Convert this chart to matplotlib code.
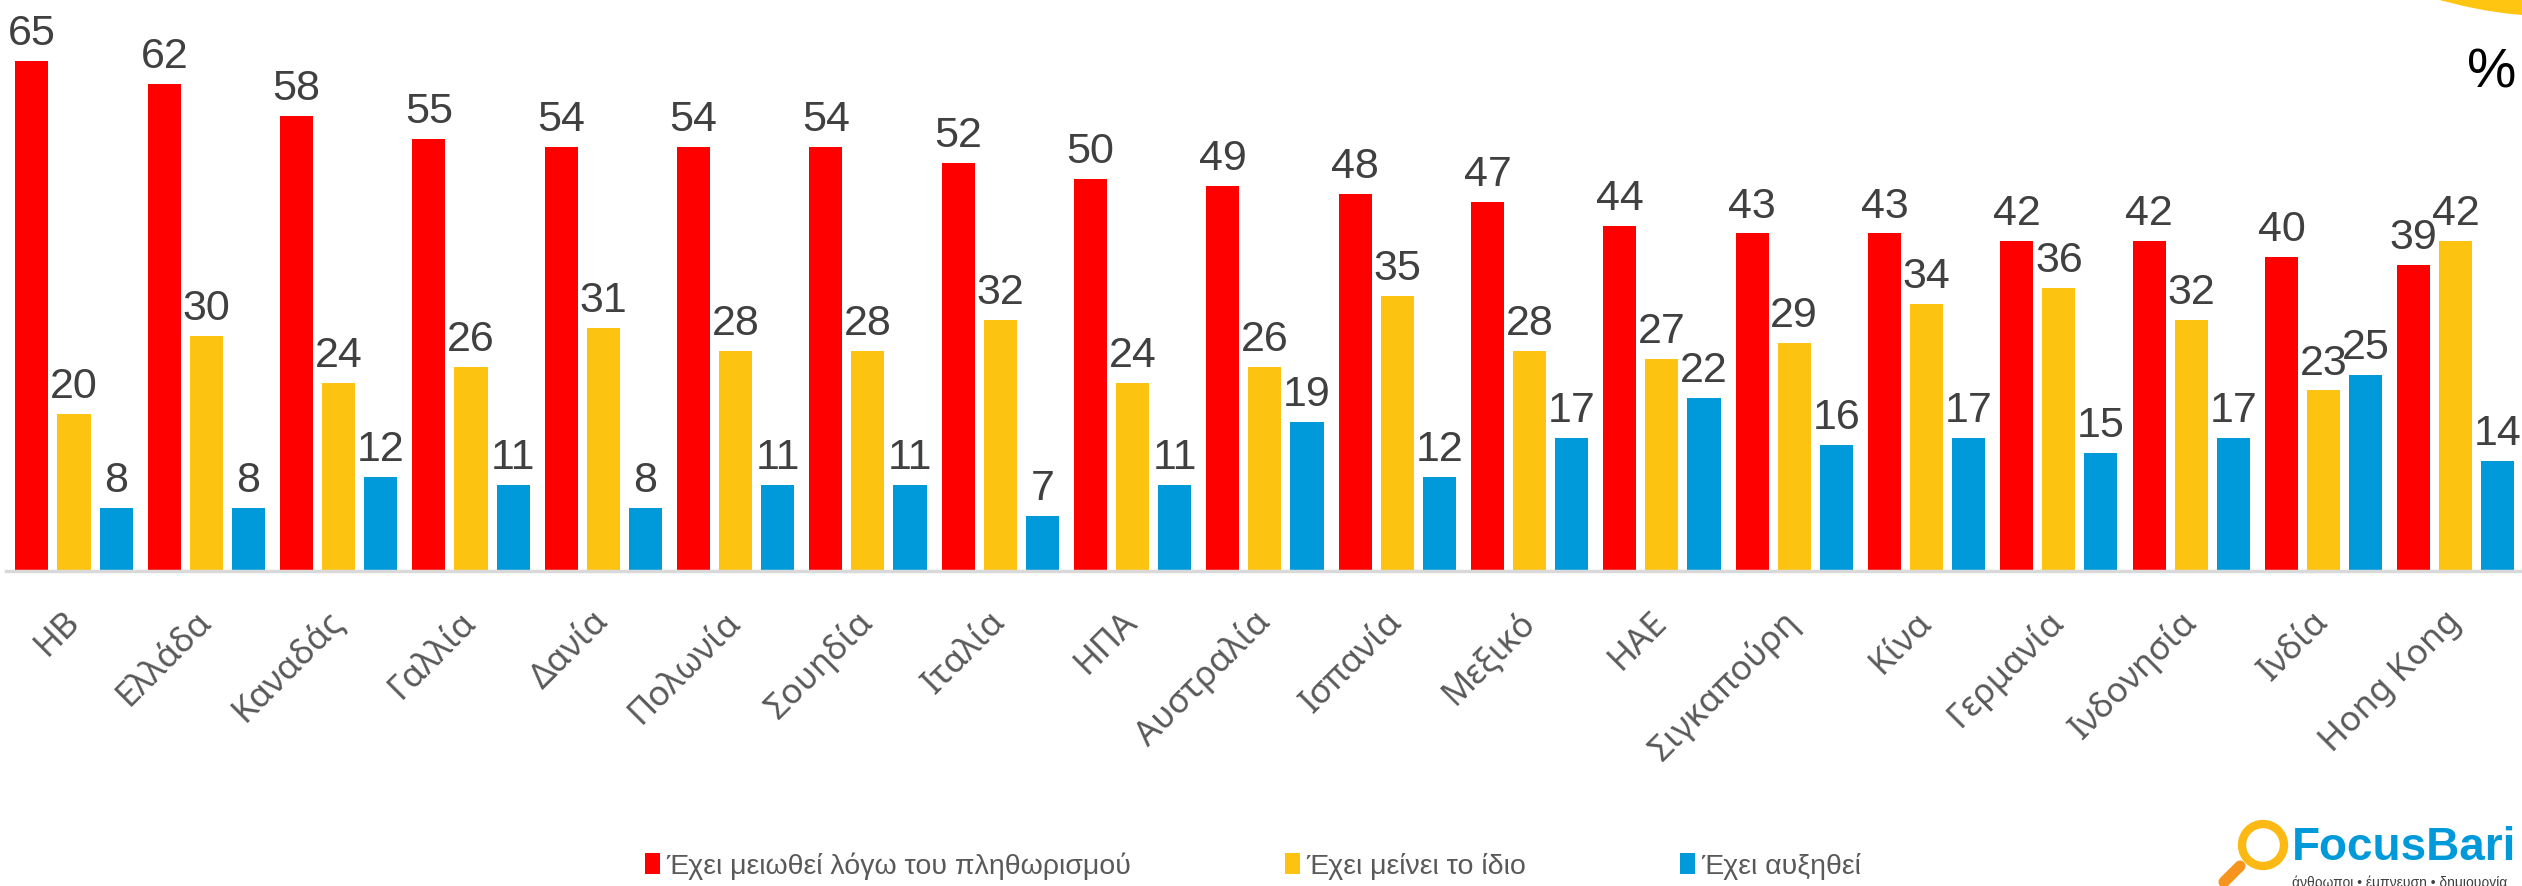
import numpy as np
import matplotlib
matplotlib.use("Agg")
import matplotlib.pyplot as plt
from matplotlib import font_manager
from matplotlib.patches import Patch, Ellipse
from matplotlib.lines import Line2D

countries = ["ΗΒ", "Ελλάδα", "Καναδάς", "Γαλλία", "Δανία", "Πολωνία", "Σουηδία",
             "Ιταλία", "ΗΠΑ", "Αυστραλία", "Ισπανία", "Μεξικό", "ΗΑΕ",
             "Σιγκαπούρη", "Κίνα", "Γερμανία", "Ινδονησία", "Ινδία", "Hong Kong"]
decreased = [65, 62, 58, 55, 54, 54, 54, 52, 50, 49, 48, 47, 44, 43, 43, 42, 42, 40, 39]
same = [20, 30, 24, 26, 31, 28, 28, 32, 24, 26, 35, 28, 27, 29, 34, 36, 32, 23, 42]
increased = [8, 8, 12, 11, 8, 11, 11, 7, 11, 19, 12, 17, 22, 16, 17, 15, 17, 25, 14]
series_names = ["Έχει μειωθεί λόγω του πληθωρισμού", "Έχει μείνει το ίδιο", "Έχει αυξηθεί"]
colors = ["#FF0000", "#FDC311", "#009ADA"]

# narrow font for legend if there is one
try:
  font_manager.findfont("Liberation Sans Narrow", fallback_to_default=False)
  narrow = True
except Exception:
  narrow = False
leg_family = "Liberation Sans Narrow" if narrow else "Liberation Sans"
leg_size = 24 if narrow else 20.5

W, H = 2522, 886
fig = plt.figure(figsize=(W / 100, H / 100), dpi=100)

def fx(px):
  return px / W

def fy(py):
  return 1 - py / H

ax = fig.add_axes([fx(6), fy(571), 1 - fx(6), 571 / H])
ax.patch.set_alpha(0)
x = np.arange(len(countries))
offsets = [-0.318, 0, 0.318]
for vals, off, col in zip([decreased, same, increased], offsets, colors):
  bars = ax.bar(x + off, vals, width=0.25, color=col, zorder=2)
  labels = ax.bar_label(bars, padding=5, fontsize=31, color="#404040",
                        family="Liberation Sans")
  for t in labels:
    t.set_clip_on(False)

ax.set_xlim(-0.514, 18.5)
ax.set_ylim(0, 571 / 7.85)
for s in ["top", "right", "left"]:
  ax.spines[s].set_visible(False)
ax.spines["bottom"].set_color("#D9D9D9")
ax.spines["bottom"].set_linewidth(2.5)
ax.set_yticks([])
ax.set_xticks(x)
ax.set_xticklabels(countries, rotation=45, ha="right", va="center",
                   rotation_mode="anchor", fontsize=25, color="#595959",
                   family="Noto Sans")
ax.tick_params(axis="x", length=0, pad=33)

# legend
handles = [Patch(facecolor=c, edgecolor="none") for c in colors]
fig.legend(handles, series_names, loc="center", bbox_to_anchor=(0.4968, fy(866)),
           ncol=3, frameon=False, handlelength=0.55, handleheight=0.75,
           handletextpad=0.2, columnspacing=5.4, borderaxespad=0,
           labelcolor="#595959",
           prop={"family": leg_family, "size": leg_size})

# percent sign and decoration
fig.text(fx(2516), fy(74), "%", fontsize=40, color="black", ha="right", va="center",
         family=leg_family)
fig.add_artist(Ellipse((fx(2560), fy(-424)), 880 / W, 880 / H,
                       transform=fig.transFigure, color="#FFC511", zorder=3))

# logo
fig.add_artist(Line2D([fx(2240), fx(2224)], [fy(866), fy(882)], transform=fig.transFigure,
                      color="#F7941D", lw=8, solid_capstyle="round"))
fig.add_artist(Ellipse((fx(2263), fy(845)), 42 / W, 42 / H, transform=fig.transFigure,
                       facecolor="none", edgecolor="#FDB913", lw=6))
fig.text(fx(2292), fy(848), "FocusBari", fontsize=33, fontweight="bold", color="#009ADA",
         ha="left", va="center", family="Liberation Sans")
fig.text(fx(2292), fy(876), "άνθρωποι • έμπνευση • δημιουργία", fontsize=10,
         color="#404040", ha="left", va="top", family="Liberation Sans")

fig.savefig("out.png", dpi=100)
